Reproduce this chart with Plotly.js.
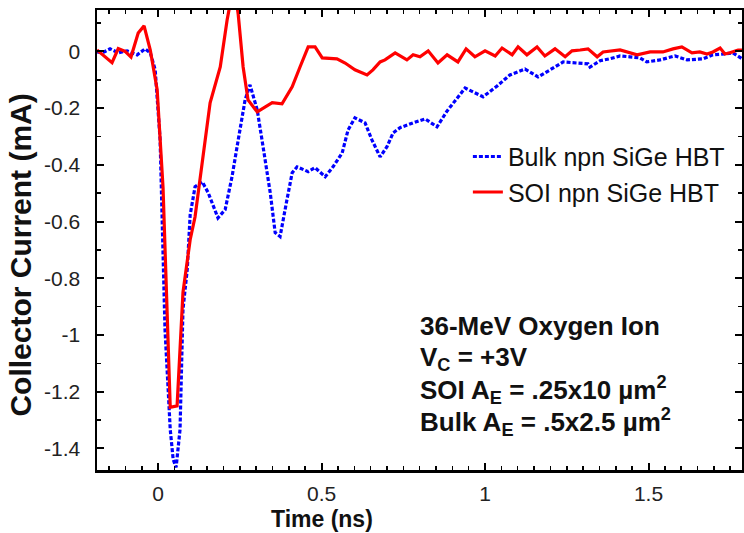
<!DOCTYPE html>
<html>
<head>
<meta charset="utf-8">
<script src="https://cdn.plot.ly/plotly-3.0.1.min.js"></script>
<style>
html,body{margin:0;padding:0;background:#fff;}
#chart{width:744px;height:533px;}
</style>
</head>
<body>
<div id="chart"></div>
<script>
// Bulk npn SiGe HBT (blue dotted)
const bulkTime = [-0.187,-0.171,-0.147,-0.122,-0.095,-0.064,-0.040,-0.024,-0.009,0.006,0.021,0.037,0.046,0.055,0.067,0.073,0.076,0.089,0.098,0.113,0.135,0.153,0.183,0.205,0.226,0.245,0.266,0.281,0.303,0.321,0.343,0.358,0.373,0.394,0.410,0.425,0.459,0.480,0.511,0.535,0.563,0.581,0.602,0.633,0.654,0.679,0.700,0.719,0.740,0.780,0.817,0.853,0.884,0.939,0.994,1.037,1.076,1.122,1.162,1.199,1.239,1.281,1.315,1.321,1.352,1.382,1.413,1.443,1.474,1.495,1.535,1.581,1.618,1.667,1.697,1.734,1.758,1.786];
const bulkCurrent = [-0.002,-0.005,0.009,-0.005,0.002,-0.012,0.009,-0.005,-0.065,-0.31,-0.98,-1.333,-1.439,-1.467,-1.333,-1.097,-0.91,-0.769,-0.576,-0.477,-0.460,-0.498,-0.587,-0.558,-0.442,-0.312,-0.171,-0.118,-0.206,-0.336,-0.499,-0.639,-0.653,-0.523,-0.428,-0.407,-0.424,-0.410,-0.442,-0.407,-0.358,-0.277,-0.234,-0.252,-0.312,-0.372,-0.336,-0.287,-0.269,-0.252,-0.238,-0.266,-0.210,-0.129,-0.160,-0.122,-0.083,-0.062,-0.090,-0.065,-0.037,-0.041,-0.044,-0.055,-0.033,-0.026,-0.016,-0.019,-0.023,-0.037,-0.030,-0.016,-0.030,-0.026,-0.012,-0.009,-0.005,-0.026];

// SOI npn SiGe HBT (red solid)
const soiTime = [-0.187,-0.177,-0.159,-0.141,-0.122,-0.101,-0.083,-0.061,-0.043,-0.024,-0.003,0.015,0.037,0.058,0.076,0.098,0.113,0.135,0.159,0.190,0.211,0.232,0.245,0.260,0.275,0.303,0.349,0.379,0.410,0.434,0.459,0.480,0.502,0.547,0.572,0.602,0.639,0.657,0.679,0.694,0.725,0.761,0.780,0.801,0.826,0.856,0.884,0.917,0.942,0.969,1.000,1.031,1.052,1.083,1.101,1.128,1.159,1.183,1.214,1.245,1.266,1.291,1.315,1.343,1.361,1.413,1.434,1.465,1.505,1.544,1.575,1.602,1.633,1.657,1.679,1.697,1.719,1.734,1.749,1.774,1.792];
const soiCurrent = [0.005,-0.005,-0.02,-0.04,0.01,0.0,-0.02,0.065,0.09,0.005,-0.135,-0.48,-1.255,-1.25,-0.85,-0.664,-0.583,-0.382,-0.181,-0.055,0.111,0.24,0.13,-0.055,-0.171,-0.213,-0.181,-0.185,-0.125,-0.055,0.016,0.016,-0.023,-0.026,-0.041,-0.065,-0.083,-0.065,-0.037,-0.030,-0.005,-0.030,-0.012,-0.019,0.002,-0.041,-0.012,-0.037,0.009,-0.019,0.002,-0.016,0.012,-0.012,0.016,-0.012,0.016,-0.016,0.009,-0.019,0.002,0.005,0.009,-0.019,-0.002,0.005,-0.002,-0.012,-0.002,-0.002,0.009,0.016,-0.005,-0.002,-0.009,-0.002,0.012,-0.009,-0.005,0.005,0.005];

const seriesNames = ['Bulk npn SiGe HBT', 'SOI npn SiGe HBT'];
const xTickVals = [0, 0.5, 1, 1.5];
const xTickText = ['0', '0.5', '1', '1.5'];
const yTickVals = [0, -0.2, -0.4, -0.6, -0.8, -1, -1.2, -1.4];
const yTickText = ['0', '-0.2', '-0.4', '-0.6', '-0.8', '-1', '-1.2', '-1.4'];
const xTitle = 'Time (ns)';
const yTitle = 'Collector Current (mA)';
const noteLines = [
  '36-MeV Oxygen Ion',
  'V<sub>C</sub> = +3V',
  'SOI A<sub>E</sub> = .25x10 µm<sup>2</sup>',
  'Bulk A<sub>E</sub> = .5x2.5 µm<sup>2</sup>'
];

const FONT = 'Liberation Sans, Arial, sans-serif';

const traces = [
  {x: bulkTime, y: bulkCurrent, name: seriesNames[0], type: 'scatter', mode: 'lines',
   line: {color: '#0000ff', width: 3.2, dash: '4px,2px'}},
  {x: soiTime, y: soiCurrent, name: seriesNames[1], type: 'scatter', mode: 'lines',
   line: {color: '#ff0000', width: 3.2}}
];

const axisCommon = {
  showline: true, linecolor: '#000', linewidth: 2.5, mirror: 'ticks',
  ticks: 'inside', ticklen: 7, tickwidth: 2, tickcolor: '#000',
  showgrid: false, zeroline: false,
  tickfont: {family: FONT, size: 21, color: '#222'}
};

const noteY = [-0.967, -1.082, -1.194, -1.305];
const annotations = noteLines.map((t, i) => ({
  text: '<b>' + t + '</b>', xref: 'x', yref: 'y', x: 0.795, y: noteY[i],
  xanchor: 'left', yanchor: 'middle', showarrow: false,
  font: {family: FONT, size: 26, color: '#111'}
}));
annotations.push({
  text: '<b>' + xTitle + '</b>', xref: 'x', yref: 'paper', x: 0.5, y: -0.1055,
  xanchor: 'center', yanchor: 'middle', showarrow: false,
  font: {family: FONT, size: 23, color: '#111'}
});
annotations.push({
  text: '<b>' + yTitle + '</b>', xref: 'paper', yref: 'paper', x: -0.118, y: 0.468,
  xanchor: 'center', yanchor: 'middle', showarrow: false, textangle: -90,
  font: {family: FONT, size: 30, color: '#111'}
});

const layout = {
  width: 744, height: 533,
  margin: {l: 97, r: 2, t: 10, b: 62.5},
  paper_bgcolor: '#fff', plot_bgcolor: '#fff',
  showlegend: true,
  legend: {x: 0.575, y: 0.731, xanchor: 'left', yanchor: 'top',
           bgcolor: 'rgba(0,0,0,0)', borderwidth: 0,
           font: {family: FONT, size: 25, color: '#111'}},
  xaxis: Object.assign({}, axisCommon, {
    range: [-0.187, 1.786], tickmode: 'array', tickvals: xTickVals, ticktext: xTickText,
    ticklabelstandoff: 3,
    minor: {dtick: 0.05, ticks: 'inside', ticklen: 4, tickwidth: 1.5, tickcolor: '#000', showgrid: false}
  }),
  yaxis: Object.assign({}, axisCommon, {
    range: [-1.476, 0.146], tickmode: 'array', tickvals: yTickVals, ticktext: yTickText,
    ticklabelstandoff: 10,
    minor: {dtick: 0.1, ticks: 'inside', ticklen: 4, tickwidth: 1.5, tickcolor: '#000', showgrid: false}
  }),
  annotations: annotations
};

Plotly.newPlot('chart', traces, layout, {staticPlot: true, displayModeBar: false});
</script>
</body>
</html>
